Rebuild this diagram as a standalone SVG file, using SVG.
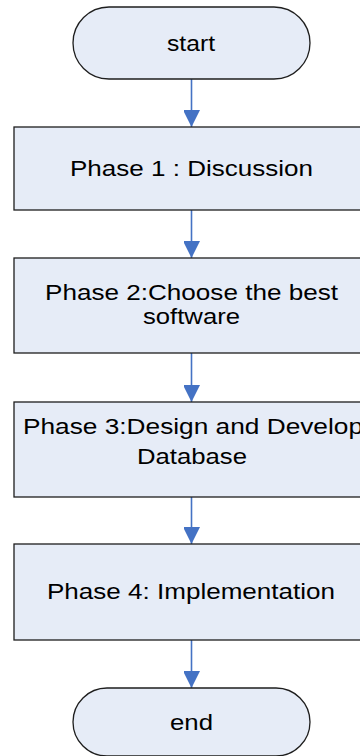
<svg xmlns="http://www.w3.org/2000/svg" width="360" height="756" viewBox="0 0 360 756">
  <style>
    .shape { fill: #E6ECF7; stroke: #1e1e1e; stroke-width: 1.3; }
    .label { font-family: "Liberation Sans", Arial, sans-serif; font-size: 22px; fill: #000; }
    .flow { stroke: #4472C4; stroke-width: 1.6; fill: none; marker-end: url(#head); }
  </style>
  <defs>
    <marker id="head" markerUnits="userSpaceOnUse" markerWidth="18" markerHeight="16" refX="17" refY="8.5" orient="auto">
      <path d="M0,0 L17,8.5 L0,17 Z" fill="#4472C4"/>
    </marker>
  </defs>

  <!-- connectors -->
  <g id="connectors">
    <line class="flow" x1="191.5" y1="79" x2="191.5" y2="127"/>
    <line class="flow" x1="191.5" y1="210" x2="191.5" y2="258"/>
    <line class="flow" x1="191.5" y1="353" x2="191.5" y2="402"/>
    <line class="flow" x1="191.5" y1="497" x2="191.5" y2="544"/>
    <line class="flow" x1="191.5" y1="640" x2="191.5" y2="688"/>
  </g>

  <g id="start">
    <rect class="shape" x="73" y="7" width="237" height="72" rx="36" ry="36"/>
    <text class="label" x="167" y="51" textLength="48" lengthAdjust="spacingAndGlyphs">start</text>
  </g>

  <g id="phase1">
    <rect class="shape" x="14" y="127" width="360" height="83"/>
    <text class="label" x="70" y="176" textLength="243" lengthAdjust="spacingAndGlyphs">Phase 1 : Discussion</text>
  </g>

  <g id="phase2">
    <rect class="shape" x="14" y="258" width="360" height="95"/>
    <text class="label" x="45" y="300" textLength="293" lengthAdjust="spacingAndGlyphs">Phase 2:Choose the best</text>
    <text class="label" x="143" y="324" textLength="97" lengthAdjust="spacingAndGlyphs">software</text>
  </g>

  <g id="phase3">
    <rect class="shape" x="14" y="402" width="360" height="95"/>
    <text class="label" x="23" y="434" textLength="340" lengthAdjust="spacingAndGlyphs">Phase 3:Design and Develop</text>
    <text class="label" x="137" y="464" textLength="110" lengthAdjust="spacingAndGlyphs">Database</text>
  </g>

  <g id="phase4">
    <rect class="shape" x="14" y="544" width="360" height="96"/>
    <text class="label" x="47" y="599" textLength="288" lengthAdjust="spacingAndGlyphs">Phase 4: Implementation</text>
  </g>

  <g id="end">
    <rect class="shape" x="73" y="688" width="237" height="68" rx="34" ry="34"/>
    <text class="label" x="170" y="730" textLength="43" lengthAdjust="spacingAndGlyphs">end</text>
  </g>
</svg>
